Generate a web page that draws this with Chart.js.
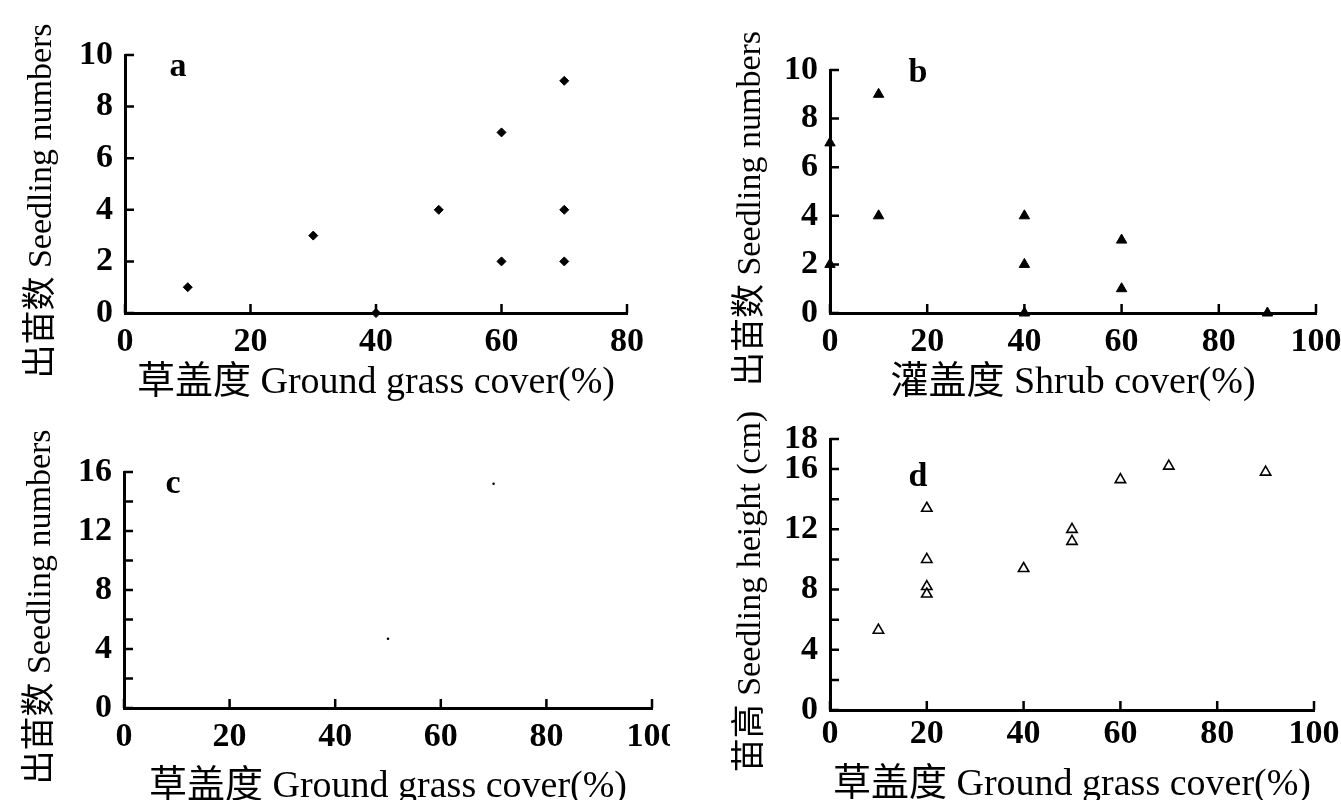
<!DOCTYPE html>
<html>
<head>
<meta charset="utf-8">
<script src="https://cdn.jsdelivr.net/npm/chart.js@4.4.0/dist/chart.umd.min.js"></script>
<style>
    body { margin: 0; background: #fff; }
    #wrap { position: relative; width: 1341px; height: 800px; overflow: hidden; background: #fff; }
    canvas { position: absolute; }
</style>
</head>
<body>
<div id="wrap">
    <canvas id="chartA" width="670" height="410" style="left:0;top:0"></canvas>
    <canvas id="chartB" width="671" height="410" style="left:670px;top:0"></canvas>
    <canvas id="chartC" width="670" height="400" style="left:0;top:410px"></canvas>
    <canvas id="chartD" width="671" height="400" style="left:670px;top:410px"></canvas>
</div>
<script>
// panel a: seedling numbers vs ground grass cover
const grassA = [10, 30, 40, 50, 60, 60, 70, 70, 70];
const seedA = [1, 3, 0, 4, 7, 2, 9, 4, 2];
const xTicksA = [0, 20, 40, 60, 80];
const yTicksA = [0, 2, 4, 6, 8, 10];

// panel b: seedling numbers vs shrub cover
const shrubB = [0, 0, 10, 10, 40, 40, 40, 60, 60, 90];
const seedB = [7, 2, 9, 4, 4, 2, 0, 3, 1, 0];
const xTicksB = [0, 20, 40, 60, 80, 100];
const yTicksB = [0, 2, 4, 6, 8, 10];

// panel c: (almost empty) seedling numbers vs ground grass cover
const grassC = [50, 70];
const seedC = [4.7, 15.2];
const xTicksC = [0, 20, 40, 60, 80, 100];
const yTicksC = [0, 4, 8, 12, 16];

// panel d: seedling height vs ground grass cover
const grassD = [10, 20, 20, 20, 20, 40, 50, 50, 60, 70, 90];
const heightD = [5.3, 13.4, 10, 8.2, 7.7, 9.4, 12, 11.2, 15.3, 16.2, 15.8];
const xTicksD = [0, 20, 40, 60, 80, 100];
const yTicksD = [0, 4, 8, 12, 16, 18];

const serif = "'Liberation Serif', 'Noto Sans CJK SC', serif";
const titleX1 = '草盖度 Ground grass cover(%)';
const titleX2 = '灌盖度 Shrub cover(%)';
// trailing en spaces push the rotated title a bit down, as in the print
const titleY1 = '出苗数 Seedling numbers\u2002\u2002';
const titleY2 = '苗高 Seedling height (cm)\u2002\u2002';

function puntos(xs, ys) {
    return xs.map((x, i) => ({ x: x, y: ys[i] }));
}

// tick marks pointing into the plot, like the printed figure
const ticksAdentro = {
    id: 'ticksAdentro',
    afterDraw(chart) {
        const ctx = chart.ctx;
        const area = chart.chartArea;
        ctx.save();
        ctx.strokeStyle = '#000';
        ctx.lineWidth = 2.5;
        ctx.beginPath();
        chart.scales.x.ticks.forEach(t => {
            const px = chart.scales.x.getPixelForValue(t.value);
            ctx.moveTo(px, area.bottom);
            ctx.lineTo(px, area.bottom - 9);
        });
        chart.scales.y.ticks.forEach(t => {
            const py = chart.scales.y.getPixelForValue(t.value);
            ctx.moveTo(area.left, py);
            ctx.lineTo(area.left + 9, py);
        });
        ctx.stroke();
        ctx.restore();
    }
};

// the small panel letter (a, b, c, d)
const letraPanel = {
    id: 'letraPanel',
    afterDraw(chart, args, opts) {
        const ctx = chart.ctx;
        ctx.save();
        ctx.fillStyle = '#000';
        ctx.font = 'bold 34px ' + serif;
        ctx.textAlign = 'center';
        ctx.textBaseline = 'middle';
        ctx.fillText(opts.text, chart.chartArea.left + opts.dx, chart.chartArea.top + opts.dy);
        ctx.restore();
    }
};

function crearPanel(id, cfg) {
    const ctx = document.getElementById(id).getContext('2d');
    return new Chart(ctx, {
        type: 'scatter',
        data: {
            datasets: [{
                data: puntos(cfg.xs, cfg.ys),
                pointStyle: cfg.estilo,
                pointRadius: cfg.radio,
                pointBorderWidth: cfg.borde,
                pointBackgroundColor: cfg.relleno,
                pointBorderColor: '#000',
                clip: false
            }]
        },
        options: {
            responsive: false,
            animation: false,
            devicePixelRatio: 1,
            layout: { padding: { left: 0, top: cfg.padTop, right: cfg.padRight, bottom: 0 } },
            plugins: {
                legend: { display: false },
                tooltip: { enabled: false },
                letraPanel: { text: cfg.letra, dx: cfg.letraDx, dy: cfg.letraDy }
            },
            scales: {
                x: {
                    type: 'linear',
                    min: 0,
                    max: cfg.xTicks[cfg.xTicks.length - 1],
                    afterBuildTicks: s => { s.ticks = cfg.xTicks.map(v => ({ value: v })); },
                    afterFit: s => { s.height = cfg.altoX; s.paddingLeft = 0; s.paddingRight = 0; },
                    grid: { display: false, drawTicks: false },
                    border: { display: true, color: '#000', width: 3 },
                    ticks: {
                        color: '#000',
                        padding: cfg.padTickX,
                        maxRotation: 0,
                        autoSkip: false,
                        font: { family: serif, size: 34, weight: 'bold' }
                    },
                    title: {
                        display: true,
                        text: cfg.tituloX,
                        color: '#000',
                        padding: { top: 0, bottom: cfg.padTituloX },
                        font: { family: serif, size: 38 }
                    }
                },
                y: {
                    type: 'linear',
                    min: 0,
                    max: cfg.yMax,
                    ticks: {
                        stepSize: 2,
                        autoSkip: false,
                        color: '#000',
                        padding: 12,
                        font: { family: serif, size: 34, weight: 'bold' },
                        callback: v => cfg.yTicks.includes(v) ? String(v) : ''
                    },
                    afterFit: s => { s.width = cfg.anchoY; s.paddingTop = 0; s.paddingBottom = 0; },
                    grid: { display: false, drawTicks: false },
                    border: { display: true, color: '#000', width: 3 },
                    title: {
                        display: true,
                        text: cfg.tituloY,
                        color: '#000',
                        padding: { top: cfg.padTituloY, bottom: 0 },
                        font: { family: serif, size: 34 }
                    }
                }
            }
        },
        plugins: [ticksAdentro, letraPanel]
    });
}

crearPanel('chartA', {
    xs: grassA, ys: seedA, xTicks: xTicksA, yTicks: yTicksA, yMax: 10,
    estilo: 'rectRot', radio: 4.5, borde: 1, relleno: '#000',
    padTop: 55, padRight: 43, anchoY: 125, altoX: 97, padTickX: 9,
    tituloX: titleX1, tituloY: titleY1, padTituloX: 4, padTituloY: 22,
    letra: 'a', letraDx: 53, letraDy: 12
});

crearPanel('chartB', {
    xs: shrubB, ys: seedB, xTicks: xTicksB, yTicks: yTicksB, yMax: 10,
    estilo: 'triangle', radio: 6, borde: 1, relleno: '#000',
    padTop: 70, padRight: 25, anchoY: 160, altoX: 97, padTickX: 9,
    tituloX: titleX2, tituloY: titleY1, padTituloX: 4, padTituloY: 61,
    letra: 'b', letraDx: 88, letraDy: 3
});

crearPanel('chartC', {
    xs: grassC, ys: seedC, xTicks: xTicksC, yTicks: yTicksC, yMax: 16,
    estilo: 'circle', radio: 1.3, borde: 0, relleno: '#000',
    padTop: 62, padRight: 18, anchoY: 124, altoX: 102, padTickX: 9,
    tituloX: titleX1, tituloY: titleY1, padTituloX: 0, padTituloY: 21,
    letra: 'c', letraDx: 49, letraDy: 12
});

crearPanel('chartD', {
    xs: grassD, ys: heightD, xTicks: xTicksD, yTicks: yTicksD, yMax: 18,
    estilo: 'triangle', radio: 6, borde: 1.6, relleno: '#fff',
    padTop: 29, padRight: 27, anchoY: 160, altoX: 100, padTickX: 4,
    tituloX: titleX1, tituloY: titleY2, padTituloX: 2, padTituloY: 61,
    letra: 'd', letraDx: 88, letraDy: 38
});
</script>
</body>
</html>
